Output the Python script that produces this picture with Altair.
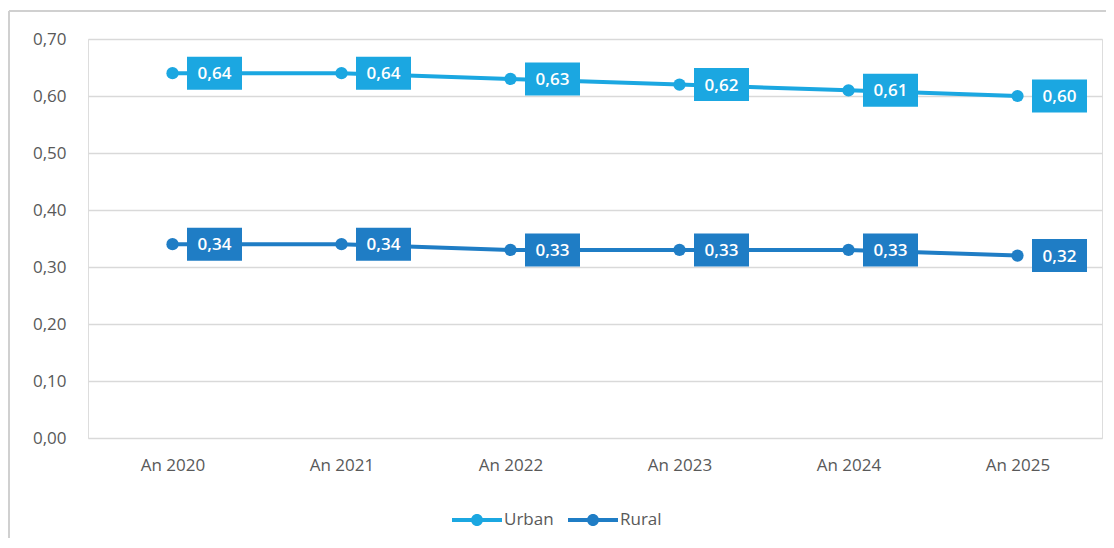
import altair as alt
import pandas as pd

years = ["An 2020", "An 2021", "An 2022", "An 2023", "An 2024", "An 2025"]
urban = [0.64, 0.64, 0.63, 0.62, 0.61, 0.60]
rural = [0.34, 0.34, 0.33, 0.33, 0.33, 0.32]
series = ["Urban", "Rural"]
colors = ["#1BA7E1", "#1F7DC5"]

df = pd.DataFrame(
    [{"year": y, "value": v, "series": "Urban"} for y, v in zip(years, urban)]
    + [{"year": y, "value": v, "series": "Rural"} for y, v in zip(years, rural)]
)

FONT = "Open Sans"
GRAY = "#595959"

x = alt.X("year:N", sort=years, scale=alt.Scale(type="point", padding=0.5),
          axis=alt.Axis(title=None, labelFontSize=17, labelColor=GRAY, labelFont=FONT,
                        labelPadding=19, domain=False, ticks=False, labelAngle=0, grid=False))
y = alt.Y("value:Q", scale=alt.Scale(domain=[0, 0.7]),
          axis=alt.Axis(title=None, values=[0, 0.1, 0.2, 0.3, 0.4, 0.5, 0.6, 0.7],
                        labelExpr="replace(format(datum.value, '.2f'), '.', ',')",
                        labelFontSize=17, labelColor=GRAY, labelFont=FONT,
                        labelPadding=22, domain=False, ticks=False,
                        gridColor="#D9D9D9", gridWidth=1.6))

legend_shape = ("M-1,-0.08H-0.22V0.08H-1Z M0.22,-0.08H1V0.08H0.22Z "
                "M-0.24,0A0.24,0.24 0 1,1 0.24,0A0.24,0.24 0 1,1 -0.24,0Z")

color = alt.Color("series:N", scale=alt.Scale(domain=series, range=colors), sort=series,
                  legend=alt.Legend(title=None, orient="none", direction="horizontal",
                                    legendX=364, legendY=456,
                                    symbolType=legend_shape, symbolSize=2500,
                                    symbolStrokeWidth=0, symbolOpacity=1,
                                    labelFontSize=17, labelColor=GRAY, labelFont=FONT,
                                    labelOffset=2, columnPadding=14))

base = alt.Chart(df).encode(x=x, y=y, color=color)

line = base.mark_line(strokeWidth=4)

points = base.mark_point(filled=True, size=150, opacity=1)

boxes = base.mark_point(filled=True, opacity=1, size=3025,
                        shape="M-1,-0.6H1V0.6H-1Z", xOffset=42)

labels = alt.Chart(df).transform_calculate(
    lab="replace(format(datum.value, '.2f'), '.', ',')"
).mark_text(color="white", fontSize=17, fontWeight=600, font=FONT, xOffset=42, dy=1).encode(
    x=x, y=y, text="lab:N"
)

frame_left = alt.Chart(df).mark_rule(color="#D0D0D0", strokeWidth=2).encode(
    x=alt.value(-79), y=alt.value(-28), y2=alt.value(520))
frame_top = alt.Chart(df).mark_rule(color="#D0D0D0", strokeWidth=2).encode(
    x=alt.value(-79), x2=alt.value(1030), y=alt.value(-28))

chart = alt.layer(frame_left, frame_top, line, points, boxes, labels).properties(
    width=1014, height=399,
    autosize=alt.AutoSizeParams(type="none"),
    padding={"left": 80, "top": 31, "right": 4, "bottom": 100},
).configure_view(stroke="transparent", strokeWidth=0
).configure_axis(domain=False, ticks=False
).configure_axisX(grid=False).configure(background="white")

chart.save("out.html", embed_options={"renderer": "svg", "actions": False})
